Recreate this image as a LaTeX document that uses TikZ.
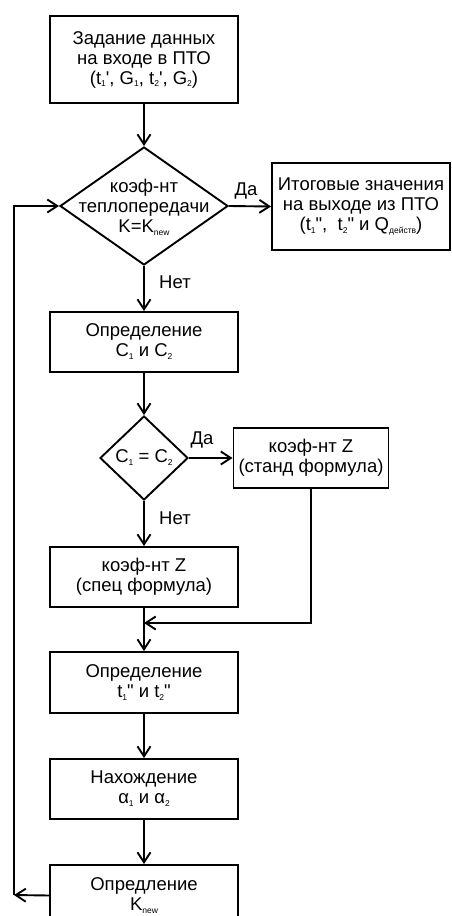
\documentclass[tikz,border=0pt]{standalone}
\usepackage{fontspec}
\newfontfamily\flowfont{Liberation Sans}
\usetikzlibrary{shapes.geometric,arrows.meta}
\newcommand{\ix}[1]{\raisebox{-0.3ex}{\fontsize{8.5}{8.5}\selectfont #1}}

\begin{document}
\begin{tikzpicture}[x=1pt,y=-1pt,
	font=\flowfont\fontsize{18.5}{20}\selectfont,
	line width=1.9pt,
	>={Straight Barb[length=10pt,width=13pt]},
	box/.style={draw,black,line width=1.9pt,inner sep=0pt,align=center,minimum width=188pt,minimum height=60pt},
	rhomb/.style={draw,black,diamond,line width=1.9pt,inner sep=0pt},
	txt/.style={inner sep=0pt,align=center}]
	\useasboundingbox (0,0) rectangle (451,916);
	% boxes
	\node [box,minimum height=87pt] (zad) at (144,59.5) {Задание данных\\на входе в ПТО\\(t\ix{1}', G\ix{1}, t\ix{2}', G\ix{2})};
	\node [rhomb,minimum width=168pt,minimum height=118pt] (d1) at (144,206) {};
	\node [txt] (d1t) at (144,207) {коэф-нт\\теплопередачи\\K=K\ix{new}};
	\node [box,minimum width=178pt,minimum height=87pt] (itog) at (361,206.5) {Итоговые значения\\на выходе из ПТО\\(t\ix{1}",\ \ t\ix{2}" и Q\ix{действ})};
	\node [box] (opc) at (144,342) {Определение\\C\ix{1} и C\ix{2}};
	\node [rhomb,minimum width=88pt,minimum height=84pt] (d2) at (144,458) {};
	\node [txt] (d2t) at (144,458) {C\ix{1} = C\ix{2}};
	\node [box,minimum width=155pt] (zst) at (311,458) {коэф-нт Z\\(станд формула)};
	\node [box] (zsp) at (144,577) {коэф-нт Z\\(спец формула)};
	\node [box,minimum height=61pt] (opt) at (144,682.5) {Определение\\t\ix{1}" и t\ix{2}"};
	\node [box] (nah) at (144,789) {Нахождение\\α\ix{1} и α\ix{2}};
	\node [box,minimum height=61pt] (knew) at (144,895.5) {Опредление\\K\ix{new}};
	% labels
	\node [txt] (da1) at (246,191) {Да};
	\node [txt] (net1) at (175,282) {Нет};
	\node [txt] (da2) at (202,440) {Да};
	\node [txt] (net2) at (175,518) {Нет};
	\coordinate (mrg) at (144,623);
	\coordinate (back) at (14,895);
	% arrows
	\draw [->] (zad) -- (d1);
	\draw [->] (d1.east) -- (itog.west);
	\draw [->] (d1.south) -- (opc);
	\draw [->] (opc) -- (d2.north);
	\draw [->] (d2.east) -- (zst.west);
	\draw [->] (d2.south) -- (zsp);
	\draw [->] (zsp) -- (opt);
	\draw [->] (zst.south) |- (mrg);
	\draw [->] (opt) -- (nah);
	\draw [->] (nah) -- (knew);
	\draw [->] (knew.west) -- (back);
	\draw [->] (back) |- (d1.west);
\end{tikzpicture}
\end{document}
